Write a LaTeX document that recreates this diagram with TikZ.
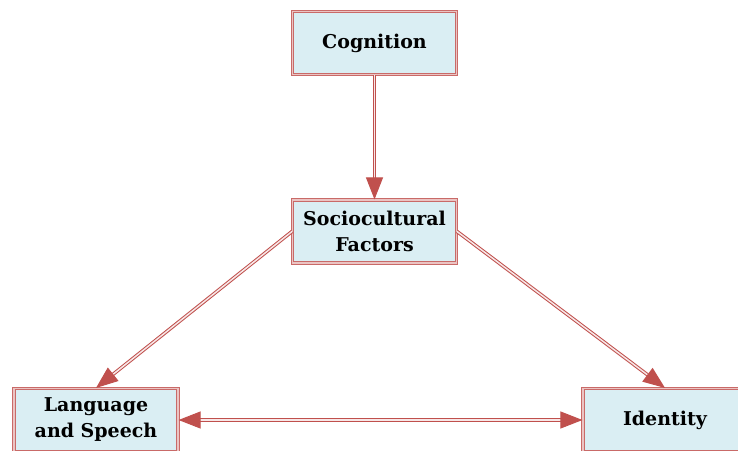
\documentclass[tikz,border=0pt]{standalone}
\usepackage{fontspec}
\setmainfont{DejaVu Serif}
\usetikzlibrary{arrows.meta}
\definecolor{boxred}{HTML}{C0504D}
\definecolor{boxpink}{HTML}{EBC4C3}
\definecolor{boxblue}{HTML}{DAEEF3}

\begin{document}
\begin{tikzpicture}[x=1pt,y=-1pt,
    factor/.style={draw=boxred!85, double=boxpink, double distance=1.2pt, line width=1.1pt,
        fill=boxblue, minimum width=164pt, minimum height=63pt, align=center,
        font=\fontsize{19}{26}\selectfont\bfseries},
    link/.style={draw=boxred, double=boxpink!40, double distance=1.5pt, line width=1pt}]

    \useasboundingbox (0,0) rectangle (738,450);

    % boxes
    \node[factor] (cog) at (374.5,43) {Cognition};
    \node[factor] (soc) at (374.5,231.5) {Sociocultural\\Factors};
    \node[factor] (lang) at (96,420) {Language\\and Speech};
    \node[factor] (ident) at (665,420) {Identity};

    % arrows
    \draw[link, -{Triangle[length=22pt,width=17pt,fill=boxred]}] (cog) -- (soc);
    \draw[link, -{Triangle[length=22pt,width=17pt,fill=boxred]}] (soc.west) -- (lang.north);
    \draw[link, -{Triangle[length=22pt,width=17pt,fill=boxred]}] (soc.east) -- (ident.north);
    \draw[link, {Triangle[length=22pt,width=17pt,fill=boxred]}-{Triangle[length=22pt,width=17pt,fill=boxred]}] (lang) -- (ident);

\end{tikzpicture}
\end{document}
